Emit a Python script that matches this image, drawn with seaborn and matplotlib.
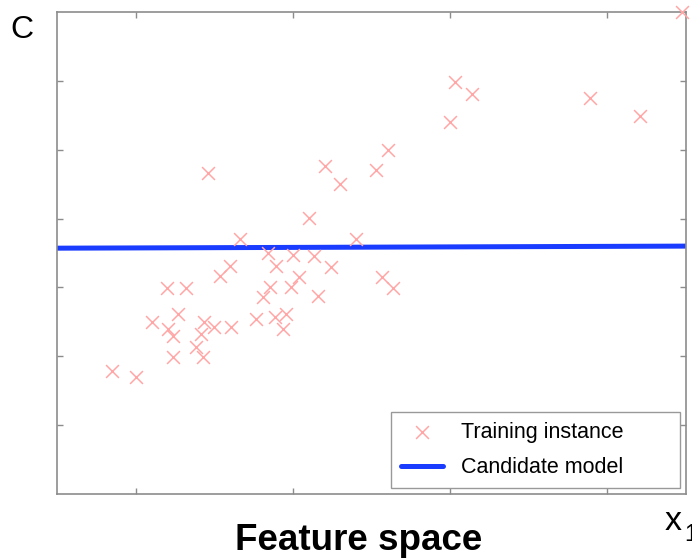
import matplotlib
matplotlib.use("Agg")
import matplotlib.pyplot as plt
import pandas as pd
import numpy as np
import seaborn as sns

# training points (x1, y)
x_train = [0.70, 1.00, 1.21, 1.40, 1.64, 1.54, 1.41, 1.48, 1.48, 1.87,
           1.83, 1.77, 1.86, 2.00, 2.21, 2.07, 2.20, 2.33, 2.53, 2.62,
           2.71, 2.77, 2.91, 2.87, 2.68, 2.79, 3.00, 2.98, 3.08, 3.27,
           3.32, 3.48, 3.21, 3.80, 4.13, 4.27, 1.92, 3.41, 3.60, 4.06,
           4.21, 5.00, 5.06, 5.28, 6.78, 7.41, 7.95]
y_train = [1.79, 1.70, 2.50, 2.99, 2.99, 2.61, 2.40, 2.29, 1.99, 2.50,
           2.32, 2.13, 1.99, 2.43, 2.43, 3.17, 3.31, 3.70, 2.54, 2.86,
           3.01, 2.57, 2.61, 2.40, 3.50, 3.31, 3.47, 3.01, 3.15, 3.46,
           2.88, 3.30, 4.01, 3.70, 3.15, 2.99, 4.66, 4.76, 4.50, 4.71,
           5.00, 5.40, 5.98, 5.81, 5.75, 5.49, 7.00]

# candidate model (nearly flat line)
x_model = [0.0, 8.0]
y_model = [3.57, 3.60]

x_ticks = [1, 3, 5, 7]
y_ticks = [1, 2, 3, 4, 5, 6]

train = pd.DataFrame({"x": x_train, "y": y_train})
model = pd.DataFrame({"x": x_model, "y": y_model})

sns.set_style("white")
plt.rcParams['font.family'] = ['Liberation Sans', 'DejaVu Sans']
plt.rcParams['text.color'] = 'black'

fig = plt.figure(figsize=(6.92, 5.59), dpi=100)
ax = fig.add_axes([57 / 692, 65 / 559, 629 / 692, 482 / 559])

sns.lineplot(data=model, x="x", y="y", ax=ax, color="#1a3cff", linewidth=3.6,
             label="Candidate model", zorder=2)
sns.scatterplot(data=train, x="x", y="y", ax=ax, marker="x", color="#ffa6a6",
                s=85, linewidth=1.1, label="Training instance", zorder=3,
                clip_on=False)

ax.set_xlim(0, 8)
ax.set_ylim(0, 7)
ax.set_xticks(x_ticks)
ax.set_yticks(y_ticks)
ax.set_xticklabels([])
ax.set_yticklabels([])
ax.set_xlabel("")
ax.set_ylabel("")
ax.tick_params(direction="in", length=4, width=1, color="#8c8c8c",
               top=True, right=True, bottom=True, left=True)
for sp in ax.spines.values():
    sp.set_color("#8c8c8c")
    sp.set_linewidth(1.2)

# legend: scatter first, then line
h, l = ax.get_legend_handles_labels()
order = [l.index("Training instance"), l.index("Candidate model")]
leg = ax.legend([h[i] for i in order], [l[i] for i in order],
                loc="lower left",
                bbox_to_anchor=((391 - 57) / 629, (494 - 488) / 482,
                                (680 - 391) / 629, (488 - 412) / 482),
                mode="expand", borderaxespad=0, fontsize=15.5,
                handlelength=1.95, handletextpad=0.85, labelspacing=0.68,
                borderpad=0.45, fancybox=False, framealpha=1,
                edgecolor="#999999")
leg.get_frame().set_linewidth(1.0)
for t in leg.get_texts():
    t.set_color("black")

fig.text(10 / 692, 1 - 38 / 559, "C", fontsize=23, va="baseline", ha="left")
fig.text(359 / 692, 1 - 550 / 559, "Feature space", fontsize=26.5,
         fontweight="bold", va="baseline", ha="center")
fig.text(665 / 692, 1 - 530 / 559, "x", fontsize=24.5, va="baseline", ha="left")
fig.text(684 / 692, 1 - 541 / 559, "1", fontsize=17, va="baseline", ha="left")

fig.savefig("out.png", dpi=100)
